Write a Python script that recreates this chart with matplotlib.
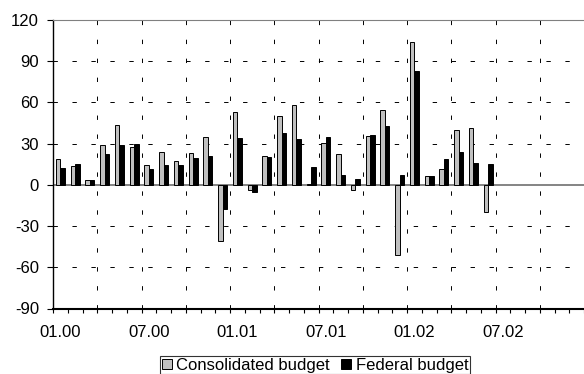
import numpy as np
import matplotlib
matplotlib.use('Agg')
import matplotlib.pyplot as plt

# monthly values, 01.00 .. 06.02
months = ['01.00', '02.00', '03.00', '04.00', '05.00', '06.00',
          '07.00', '08.00', '09.00', '10.00', '11.00', '12.00',
          '01.01', '02.01', '03.01', '04.01', '05.01', '06.01',
          '07.01', '08.01', '09.01', '10.01', '11.01', '12.01',
          '01.02', '02.02', '03.02', '04.02', '05.02', '06.02']
consolidated = [18.9, 13.8, 3.6, 28.8, 43.4, 27.9,
                14.8, 23.8, 17.2, 23.5, 34.7, -41.2,
                53.1, -4.0, 20.8, 49.9, 57.9, 0.5,
                30.3, 22.3, -3.9, 35.4, 54.3, -50.8,
                104.2, 6.8, 11.4, 40.2, 41.7, -20.0]
federal = [12.4, 15.3, 3.2, 22.8, 28.8, 29.8,
           11.6, 14.5, 14.3, 19.4, 20.8, -17.8,
           34.2, -5.0, 20.1, 37.8, 33.7, 13.0,
           34.9, 7.0, 4.2, 36.1, 42.7, 7.5,
           83.2, 6.1, 18.9, 24.2, 15.8, 14.9]
tick_labels = ['01.00', '07.00', '01.01', '07.01', '01.02', '07.02']
n_cat = 36  # axis runs to 12.02

plt.rcParams['font.family'] = ['Liberation Sans', 'DejaVu Sans']
plt.rcParams['axes.unicode_minus'] = False

fig = plt.figure(figsize=(5.84, 3.74), dpi=100)
ax = fig.add_axes([53 / 584, 1 - 308.5 / 374, 1 - 53 / 584, (308.5 - 20) / 374])

x = np.arange(len(months))
w = 0.31
ax.bar(x - w / 2, consolidated, w, color='#c0c0c0', edgecolor='black',
       linewidth=0.7, label='Consolidated budget', zorder=3)
ax.bar(x + w / 2, federal, w, color='black', edgecolor='black',
       linewidth=0.7, label='Federal budget', zorder=3)

ax.set_ylim(-90, 120)
ax.set_xlim(-0.5, -0.5 + 531 / 15)
ax.set_yticks(range(-90, 121, 30))

dash = (0, (4.5, 15))
for yv in [-60, -30, 30, 60, 90]:
    ax.axhline(yv, color='black', lw=0.7, linestyle=dash, zorder=1)
for xv in np.arange(2.5, n_cat, 3):
    ax.axvline(xv, color='black', lw=0.7, linestyle=dash, zorder=1)
ax.axhline(0, color='#707070', lw=1.2, zorder=2)

# category ticks at month boundaries, labels every 6 months
ax.set_xticks(np.arange(-0.5, n_cat, 1))
ax.set_xticklabels([])
ax.set_xticks(np.arange(0, n_cat, 6), minor=True)
ax.set_xticklabels(tick_labels, minor=True)
ax.tick_params(axis='x', which='major', length=3, width=0.8, direction='out')
ax.tick_params(axis='x', which='minor', length=0, labelsize=12, pad=12)
ax.tick_params(axis='y', length=4, width=0.8, direction='out', labelsize=12, pad=6)

ax.spines['right'].set_visible(False)
ax.spines['top'].set_color('#808080')
ax.spines['left'].set_linewidth(1.0)
ax.spines['bottom'].set_linewidth(1.5)

leg = fig.legend(loc='upper center', bbox_to_anchor=(315 / 584, 1 - 356 / 374),
                 ncol=2, frameon=True, fontsize=12, fancybox=False,
                 handlelength=0.6, handleheight=0.6, handletextpad=0.25,
                 columnspacing=0.7, borderpad=0.1, borderaxespad=0)
leg.get_frame().set_edgecolor('black')
leg.get_frame().set_linewidth(0.8)

fig.savefig('out.png', dpi=100)
